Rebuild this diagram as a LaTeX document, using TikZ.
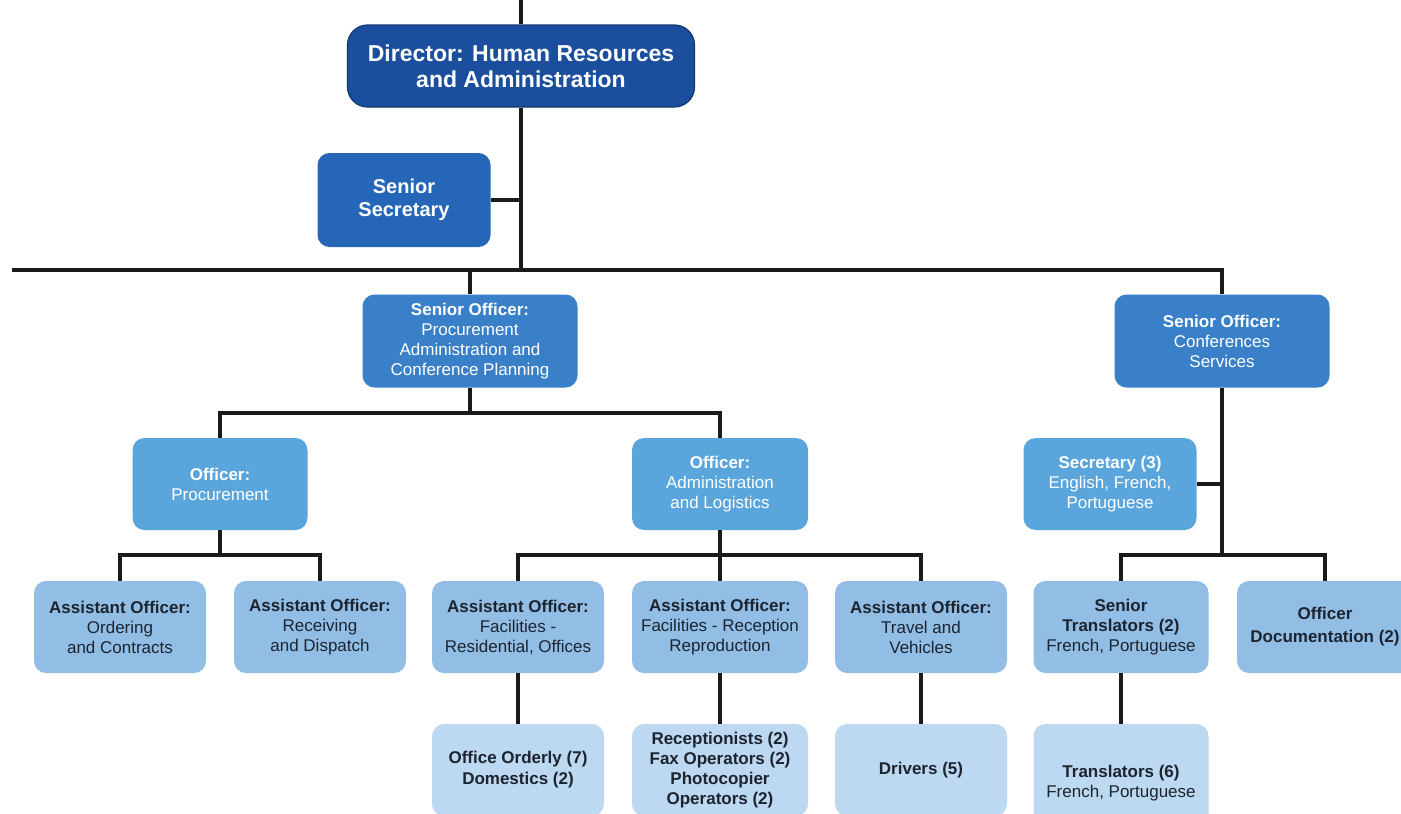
\documentclass[tikz,border=0pt]{standalone}
\usepackage{fontspec}
\setmainfont{Liberation Sans}
\usetikzlibrary{calc}
\definecolor{cDir}{HTML}{1B4F9E}
\definecolor{cSec}{HTML}{2566B8}
\definecolor{cSen}{HTML}{3A80C8}
\definecolor{cOff}{HTML}{5AA6DC}
\definecolor{cAst}{HTML}{92BEE6}
\definecolor{cStf}{HTML}{BDD8F1}
\definecolor{cTxt}{HTML}{1C2430}
\definecolor{cLine}{HTML}{1A1A1A}
\tikzset{
  box/.style={rounded corners=12pt, inner sep=0pt, align=center,
    font=\fontsize{17}{20}\selectfont},
  dirbox/.style={box, fill=cDir, draw=cDir!70!black, line width=1.2pt,
    rounded corners=20pt, text=white, minimum width=347, minimum height=82,
    font=\fontsize{23}{26}\selectfont\bfseries},
  secbox/.style={box, fill=cSec, text=white, minimum width=173, minimum height=94,
    font=\fontsize{20}{23}\selectfont\bfseries},
  senbox/.style={box, fill=cSen, text=white, minimum width=215, minimum height=93},
  offbox/.style={box, fill=cOff, text=white, minimum width=175, minimum height=92},
  astbox/.style={box, fill=cAst, text=cTxt, minimum width=172, minimum height=92},
  stfbox/.style={box, fill=cStf, text=cTxt, minimum width=172, minimum height=92},
  conn/.style={draw=cLine, line width=4pt}
}
\begin{document}
\begin{tikzpicture}[x=1pt, y=-1pt, line join=miter]
  \useasboundingbox (0,0) rectangle (1401,814);
  \clip (0,0) rectangle (1401,814);
  % top levels
  \node[dirbox] (dir) at (521,66) {Director: Human Resources\\and Administration};
  \node[secbox] (sec) at (404,200) {Senior\\Secretary};
  \node[senbox] (proc) at (470,341) {\textbf{Senior Officer:}\\Procurement\\Administration and\\Conference Planning};
  \node[senbox] (conf) at (1222,341) {\textbf{Senior Officer:}\\Conferences\\Services};
  % officers
  \node[offbox] (offproc) at (220,484) {\textbf{Officer:}\\Procurement};
  \node[offbox, minimum width=176] (offadm) at (720,484) {\textbf{Officer:}\\Administration\\and Logistics};
  \node[offbox, minimum width=173] (sec3) at (1110,484) {\textbf{Secretary (3)}\\English, French,\\Portuguese};
  % assistant officers
  \node[astbox] (aoord) at (120,627) {\textbf{Assistant Officer:}\\Ordering\\and Contracts};
  \node[astbox] (aorec) at (320,627) {\textbf{Assistant Officer:}\\Receiving\\and Dispatch};
  \node[astbox] (aores) at (518,627) {\textbf{Assistant Officer:}\\Facilities -\\Residential, Offices};
  \node[astbox, minimum width=176] (aorcp) at (720,627) {\textbf{Assistant Officer:}\\Facilities - Reception\\Reproduction};
  \node[astbox] (aotrv) at (921,627) {\textbf{Assistant Officer:}\\Travel and\\Vehicles};
  \node[astbox, minimum width=175] (sentr) at (1121,627) {\textbf{Senior}\\\textbf{Translators (2)}\\French, Portuguese};
  \node[astbox, minimum width=176, font=\fontsize{17}{23}\selectfont\bfseries] (offdoc) at (1325,627) {Officer\\Documentation (2)};
  % staff
  \node[stfbox, font=\fontsize{17}{21}\selectfont\bfseries] (ordy) at (518,770) {Office Orderly (7)\\Domestics (2)};
  \node[stfbox, minimum width=176, font=\fontsize{17}{20}\selectfont\bfseries] (recp) at (720,770) {Receptionists (2)\\Fax Operators (2)\\Photocopier\\Operators (2)};
  \node[stfbox, font=\fontsize{17}{20}\selectfont\bfseries] (drv) at (921,770) {Drivers (5)};
  \node[stfbox, minimum width=175, minimum height=118] (trn) at (1121,783) {\textbf{Translators (6)}\\French, Portuguese};
  % connectors
  \coordinate (top) at (521,0);
  \coordinate (busL) at (12,270);
  \coordinate (j1) at (470,413);
  \coordinate (j2) at (220,555);
  \coordinate (j3) at (720,555);
  \coordinate (j4) at (1222,555);
  \draw[conn] (top) -- (dir.north);
  \draw[conn] (dir.south) -- (dir.south |- busL);
  \draw[conn] (sec.east) -- (sec.east -| dir.south);
  \draw[conn, line width=4.5pt] (busL) -| (conf.north);
  \draw[conn] (proc.north) -- (proc.north |- busL);
  \draw[conn] (proc.south) -- (j1);
  \draw[conn] (offproc.north) |- (j1) -| (offadm.north);
  \draw[conn] (offproc.south) -- (j2);
  \draw[conn] (aoord.north) |- (j2) -| (aorec.north);
  \draw[conn] (offadm.south) -- (aorcp.north);
  \draw[conn] (aores.north) |- (j3) -| (aotrv.north);
  \draw[conn] (conf.south) -- (j4);
  \draw[conn] (sec3.east) -- (sec3.east -| j4);
  \draw[conn] (sentr.north) |- (j4) -| (offdoc.north);
  \draw[conn] (aores.south) -- (ordy.north);
  \draw[conn] (aorcp.south) -- (recp.north);
  \draw[conn] (aotrv.south) -- (drv.north);
  \draw[conn] (sentr.south) -- (trn.north);
\end{tikzpicture}
\end{document}
